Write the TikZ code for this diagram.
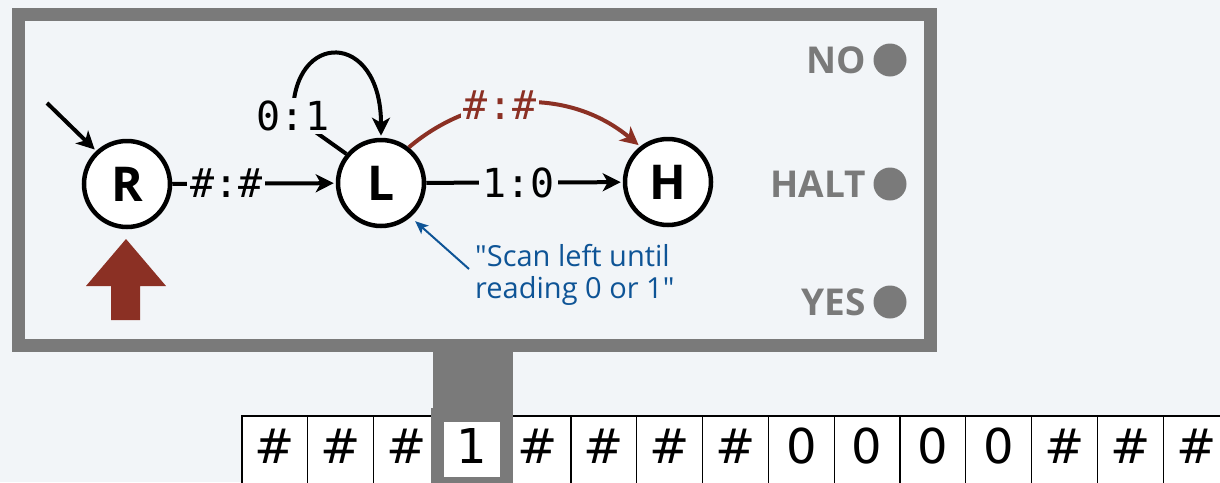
\documentclass[tikz,border=0pt]{standalone}
\usepackage{fontspec}
\setmainfont{Open Sans}
\newfontfamily\monof{DejaVu Sans Mono}
\newfontfamily\tapef{DejaVu Sans}
\newfontfamily\annf{Open Sans}
\usetikzlibrary{arrows.meta,calc}
\definecolor{bg}{RGB}{242,245,248}
\definecolor{framegray}{RGB}{122,122,122}
\definecolor{darkred}{RGB}{139,48,36}
\definecolor{annblue}{RGB}{14,84,150}
\begin{document}
\begin{tikzpicture}[x=1pt,y=1pt,
  state/.style={circle, draw=black, line width=4.5pt, fill=white, minimum size=86pt, inner sep=0pt,
    font=\fontsize{48}{48}\selectfont\bfseries},
  edge/.style={line width=4pt, -{Stealth[length=18pt,width=18pt,inset=5pt]}, shorten >=2pt},
  lbl/.style={fill=bg, inner sep=3pt, font=\monof\fontsize{40}{40}\selectfont},
  lamp/.style={circle, fill=framegray, minimum size=33pt, inner sep=0pt},
  lamptext/.style={anchor=east, inner sep=0pt, text=framegray, font=\fontsize{37}{37}\selectfont\bfseries},
  cell/.style={draw=black, line width=1.3pt, fill=white, minimum width=65.8pt, minimum height=80pt,
    inner sep=0pt, outer sep=0pt, anchor=north west},
  tapetxt/.style={anchor=base, inner sep=0pt, font=\tapef\fontsize{48}{48}\selectfont},
  annot/.style={anchor=north west, inner sep=0pt, align=left, text=annblue,
    font=\annf\fontsize{29}{32}\selectfont}
]
\useasboundingbox (0,0) rectangle (1220,-482);
\fill[bg] (0,0) rectangle (1220,-482);

% tape
\foreach \s [count=\i from 0] in {\#,\#,\#,1,\#,\#,\#,\#,0,0,0,0,\#,\#,\#}{
  \node[cell] (c\i) at ({242+65.8*\i},-416) {};
  \ifnum\i=3\else
    \node[tapetxt] (t\i) at ($(c\i.north)+(0,-47)$) {\s};
  \fi
}

% machine frame and stem
\draw[framegray, line width=13pt] (18.5,-14.5) rectangle (930.5,-345.5);
\fill[framegray] (433,-339) rectangle (513,-410);
\node[fill=framegray, anchor=north west, minimum width=82pt, minimum height=80pt, inner sep=0pt, outer sep=0pt] (head) at (431,-408) {};
\node[fill=white, anchor=north west, minimum width=56pt, minimum height=55pt, inner sep=0pt, outer sep=0pt] (win) at (444,-422) {};
\node[tapetxt] (t3) at ($(win.north)+(0,-41)$) {1};

% lamps
\node[lamp] (no) at (890,-60) {};
\node[lamptext] (notxt) at (866,-60) {NO};
\node[lamp] (halt) at (890,-184) {};
\node[lamptext] (halttxt) at (866,-184) {HALT};
\node[lamp] (yes) at (890,-302) {};
\node[lamptext] (yestxt) at (866,-302) {YES};

% states
\node[state] (R) at (127,-184) {R};
\node[state] (L) at (381,-183) {L};
\node[state] (H) at (668,-182) {H};

% start arrow
\coordinate (start) at (47,-103);
\draw[edge] (start) -- (R.133);

% transitions
\draw[edge] (R) -- (L) node[lbl, pos=0.33] (lRL) {\#:\#};
\draw[edge] (L) -- (H) node[lbl, pos=0.47] (lLH) {1:0};
\coordinate (k) at (293,-116);
\draw[edge] (L.140) -- (k) .. controls (292,-30) and (381,-30) .. (L.north);
\node[lbl] (lLL) at (k) {0:1};
\draw[edge, darkred] (L.52) to[bend left=40] node[lbl, text=darkred, pos=0.4] (lLHr) {\#:\#} (H.128);

% annotation
\node[annot] (ann) at (475,-244) {"Scan left until\\reading 0 or 1"};
\coordinate (anntail) at (469,-269);
\draw[annblue, line width=2pt, -{Stealth[length=13pt,width=11pt,inset=3pt]}, shorten >=6pt] (anntail) -- (L.-49);

% head position arrow
\fill[darkred] (126,-239) -- (166,-286) -- (140,-286) -- (140,-320) -- (111,-320) -- (111,-286) -- (86,-286) -- cycle;
\end{tikzpicture}
\end{document}
